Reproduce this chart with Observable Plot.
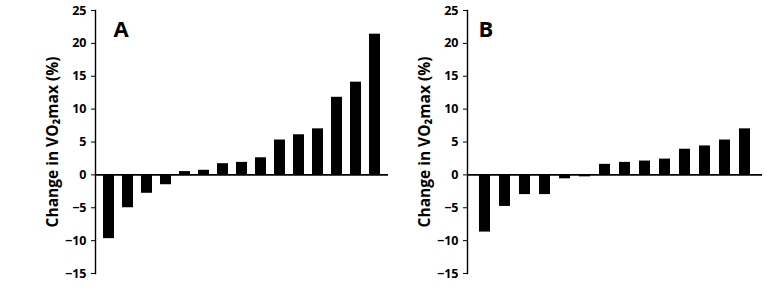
<!DOCTYPE html>
<html>
<head>
<meta charset="utf-8">
<script src="https://cdn.jsdelivr.net/npm/d3@7"></script>
<script src="https://cdn.jsdelivr.net/npm/@observablehq/plot@0.6"></script>
<style>
  html, body { margin: 0; padding: 0; background: #fff; }
  #wrap { display: flex; width: 767px; height: 288px; }
  svg text { font-family: "Open Sans", "Liberation Sans", sans-serif; font-weight: bold; fill: black; }
  svg g[aria-label="y-axis label"] text, svg g[aria-label="y-axis label"] { font-size: 15.5px; }
</style>
</head>
<body>
<div id="wrap"></div>
<script>
// Panel A: 15 participants, sorted change in VO2max (%)
const valuesA = [-9.7, -5.0, -2.8, -1.5, 0.5, 0.7, 1.7, 1.9, 2.6, 5.3, 6.1, 7.0, 11.8, 14.1, 21.4];
// Panel B: 14 participants
const valuesB = [-8.7, -4.8, -3.0, -3.0, -0.6, -0.3, 1.6, 1.9, 2.1, 2.4, 3.9, 4.4, 5.3, 7.0];
const yTicks = [-15, -10, -5, 0, 5, 10, 15, 20, 25];
const yLabel = "Change in VO₂max (%)";
const panelLabels = ["A", "B"];

function panel(values, letter, opts) {
  const data = values.map((v, i) => ({i: i + 1, v}));
  return Plot.plot({
    width: opts.width,
    height: 288,
    marginLeft: opts.marginLeft,
    marginRight: opts.marginRight,
    marginTop: 10,
    marginBottom: 15,
    x: {type: "band", domain: data.map(d => d.i), paddingInner: opts.padIn, paddingOuter: opts.padOut, axis: null},
    y: {domain: [-15, 25]},
    style: {background: "white", color: "black"},
    marks: [
      Plot.barY(data, {x: "i", y: "v", fill: "black"}),
      Plot.ruleY([0], {stroke: "black", strokeWidth: 1.6}),
      Plot.frame({anchor: "left", stroke: "black", strokeWidth: 1.4}),
      Plot.axisY({
        ticks: yTicks,
        tickSize: 4,
        tickPadding: 5,
        fontSize: 12.5,
        fontWeight: "bold",
        label: yLabel,
        labelAnchor: "center",
        labelArrow: "none",
        labelOffset: opts.labelOffset
      }),
      Plot.text([letter], {
        frameAnchor: "top-left",
        dx: opts.letterDx,
        dy: 11,
        text: d => d,
        fontSize: 22,
        fontWeight: "bold",
        fontFamily: "Liberation Sans, Arial, sans-serif",
        lineAnchor: "top",
        textAnchor: "start"
      })
    ]
  });
}

const wrap = document.getElementById("wrap");
const pA = panel(valuesA, panelLabels[0], {width: 390, marginLeft: 95, marginRight: 2, padIn: 0.44, padOut: 0.22, labelOffset: 49, letterDx: 18});
const pB = panel(valuesB, panelLabels[1], {width: 377, marginLeft: 77, marginRight: 5, padIn: 0.43, padOut: 0.33, labelOffset: 49, letterDx: 11});
wrap.appendChild(pA);
wrap.appendChild(pB);
</script>
</body>
</html>
